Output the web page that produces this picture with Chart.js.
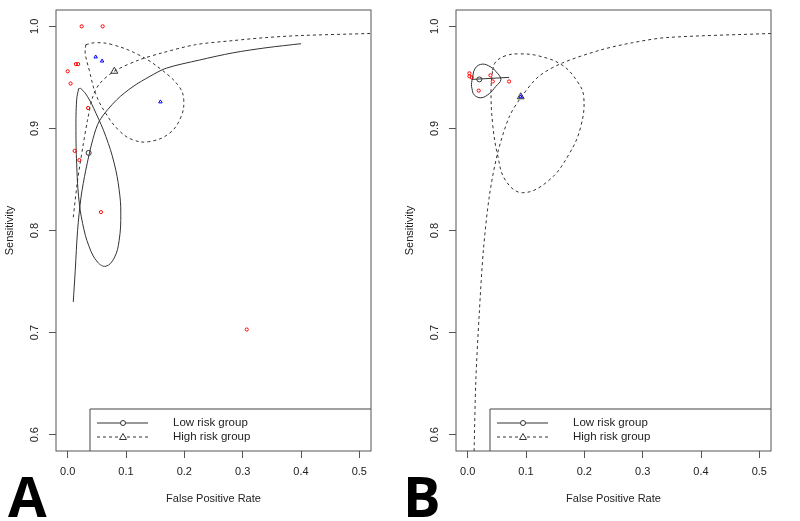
<!DOCTYPE html>
<html lang="en">
<head>
    <meta charset="UTF-8">
    <title>SROC curves by risk group</title>
    <script src="https://cdn.jsdelivr.net/npm/chart.js"></script>
    <style>
        body {
            margin: 0;
            background: #fff;
        }
        .wrap {
            position: relative;
            width: 800px;
            height: 521px;
        }
        canvas {
            position: absolute;
            top: 0;
        }
    </style>
</head>
<body>
    <div class="wrap">
        <canvas id="chartA" width="400" height="521" style="left:0"></canvas>
        <canvas id="chartB" width="400" height="521" style="left:400px"></canvas>
    </div>

    <script>
        // tick labels
        const xTicks = [0.0, 0.1, 0.2, 0.3, 0.4, 0.5];
        const yTicks = [0.6, 0.7, 0.8, 0.9, 1.0];
        const legendLabels = ['Low risk group', 'High risk group'];

        // Panel A - study points
        const aLowFpr = [0.024, 0.060, 0.000, 0.005, 0.014, 0.018, 0.035, 0.012, 0.020, 0.057, 0.307];
        const aLowSens = [1.000, 1.000, 0.956, 0.944, 0.963, 0.963, 0.920, 0.878, 0.869, 0.818, 0.703];
        const aHighFpr = [0.048, 0.059, 0.159];
        const aHighSens = [0.970, 0.966, 0.926];
        // summary points
        const aLowSumFpr = [0.036], aLowSumSens = [0.876];
        const aHighSumFpr = [0.080], aHighSumSens = [0.956];
        // SROC curves
        const aLowCurveFpr = [0.0096, 0.013, 0.017, 0.023, 0.031, 0.043, 0.055, 0.084, 0.112, 0.141, 0.169, 0.226, 0.283, 0.340, 0.400];
        const aLowCurveSens = [0.730, 0.761, 0.800, 0.833, 0.859, 0.889, 0.908, 0.928, 0.941, 0.951, 0.959, 0.967, 0.974, 0.979, 0.983];
        const aHighCurveFpr = [0.0096, 0.017, 0.026, 0.034, 0.043, 0.055, 0.080, 0.122, 0.162, 0.219, 0.283, 0.340, 0.400, 0.520];
        const aHighCurveSens = [0.813, 0.849, 0.882, 0.908, 0.931, 0.944, 0.956, 0.967, 0.974, 0.982, 0.986, 0.989, 0.991, 0.993];
        // confidence regions
        const aLowEllFpr = [0.0188, 0.0227, 0.0342, 0.0484, 0.0655, 0.0797, 0.0882, 0.0911, 0.0882, 0.0797, 0.0655, 0.0513, 0.0369, 0.0256, 0.0188, 0.0154, 0.0142, 0.0154, 0.0188];
        const aLowEllSens = [0.939, 0.939, 0.931, 0.915, 0.892, 0.866, 0.840, 0.817, 0.790, 0.773, 0.765, 0.769, 0.784, 0.807, 0.833, 0.866, 0.898, 0.928, 0.939];
        const aHighEllFpr = [0.031, 0.048, 0.077, 0.122, 0.162, 0.191, 0.199, 0.194, 0.174, 0.139, 0.111, 0.088, 0.065, 0.048, 0.037, 0.030, 0.031];
        const aHighEllSens = [0.982, 0.984, 0.982, 0.972, 0.957, 0.941, 0.928, 0.911, 0.895, 0.887, 0.889, 0.898, 0.915, 0.934, 0.957, 0.974, 0.982];

        // Panel B - study points
        const bLowFpr = [0.003, 0.003, 0.007, 0.039, 0.043, 0.071, 0.019];
        const bLowSens = [0.954, 0.951, 0.950, 0.952, 0.946, 0.946, 0.937];
        const bHighFpr = [0.091];
        const bHighSens = [0.931];
        const bLowSumFpr = [0.020], bLowSumSens = [0.948];
        const bHighSumFpr = [0.091], bHighSumSens = [0.931];
        const bLowCurveFpr = [0.007, 0.071];
        const bLowCurveSens = [0.948, 0.950];
        const bHighCurveFpr = [0.011, 0.014, 0.0199, 0.027, 0.037, 0.051, 0.071, 0.091, 0.122, 0.162, 0.229, 0.283, 0.341, 0.520];
        const bHighCurveSens = [0.584, 0.653, 0.719, 0.781, 0.833, 0.875, 0.911, 0.930, 0.951, 0.964, 0.977, 0.984, 0.989, 0.993];
        const bLowEllFpr = [0.0074, 0.013, 0.0256, 0.040, 0.048, 0.057, 0.048, 0.037, 0.0227, 0.011, 0.0074, 0.0065, 0.0074];
        const bLowEllSens = [0.947, 0.959, 0.963, 0.960, 0.956, 0.948, 0.941, 0.934, 0.930, 0.933, 0.939, 0.943, 0.947];
        const bHighEllFpr = [0.0427, 0.048, 0.064, 0.088, 0.122, 0.162, 0.188, 0.199, 0.194, 0.174, 0.139, 0.094, 0.065, 0.0513, 0.0427, 0.040, 0.0427];
        const bHighEllSens = [0.957, 0.965, 0.971, 0.973, 0.971, 0.962, 0.946, 0.931, 0.902, 0.875, 0.849, 0.837, 0.849, 0.874, 0.905, 0.938, 0.957];

        const FONT = 'Liberation Sans';
        const INK = '#333';
        Chart.defaults.font.family = FONT;

        function pts(xs, ys) {
            return xs.map((x, i) => ({ x: x, y: ys[i] }));
        }

        function lineSet(xs, ys, dashed, tension) {
            return {
                data: pts(xs, ys),
                showLine: true,
                borderColor: INK,
                borderWidth: 1,
                borderDash: dashed ? [3, 3] : [],
                pointRadius: 0,
                tension: tension,
                fill: false
            };
        }

        function pointSet(xs, ys, style, color, radius) {
            return {
                data: pts(xs, ys),
                showLine: false,
                pointStyle: style,
                pointRadius: radius,
                pointBorderColor: color,
                pointBackgroundColor: 'rgba(0,0,0,0)',
                pointBorderWidth: 1
            };
        }

        // box, rotated y labels, legend and panel letter
        const frame = {
            id: 'frame',
            afterDraw(chart, args, opts) {
                const { ctx, chartArea: ca, scales: { y } } = chart;
                ctx.save();
                ctx.strokeStyle = '#555';
                ctx.lineWidth = 1;
                ctx.setLineDash([]);
                ctx.strokeRect(ca.left, ca.top, ca.right - ca.left, ca.bottom - ca.top);

                ctx.fillStyle = '#222';
                ctx.font = '11px "' + FONT + '"';
                ctx.textAlign = 'center';
                ctx.textBaseline = 'middle';
                yTicks.forEach(v => {
                    ctx.save();
                    ctx.translate(ca.left - 21, y.getPixelForValue(v));
                    ctx.rotate(-Math.PI / 2);
                    ctx.fillText(v.toFixed(1), 0, 0);
                    ctx.restore();
                });

                // legend box, clipped by the plot frame
                const lx = ca.left + 34, ly = ca.bottom - 42;
                ctx.strokeStyle = '#444';
                ctx.beginPath();
                ctx.moveTo(lx, ca.bottom);
                ctx.lineTo(lx, ly);
                ctx.lineTo(ca.right, ly);
                ctx.stroke();

                ctx.strokeStyle = INK;
                ctx.font = '11.5px "' + FONT + '"';
                ctx.textAlign = 'left';
                legendLabels.forEach((txt, i) => {
                    const yy = ca.bottom - 28 + i * 14;
                    ctx.setLineDash(i === 0 ? [] : [3, 3]);
                    ctx.beginPath();
                    ctx.moveTo(ca.left + 41, yy);
                    ctx.lineTo(ca.left + 92, yy);
                    ctx.stroke();
                    ctx.setLineDash([]);
                    const mx = ca.left + 67;
                    ctx.fillStyle = '#fff';
                    ctx.beginPath();
                    if (i === 0) {
                        ctx.arc(mx, yy, 2.5, 0, Math.PI * 2);
                    } else {
                        ctx.moveTo(mx, yy - 3.5);
                        ctx.lineTo(mx + 3.5, yy + 2.5);
                        ctx.lineTo(mx - 3.5, yy + 2.5);
                        ctx.closePath();
                    }
                    ctx.fill();
                    ctx.stroke();
                    ctx.fillStyle = '#222';
                    ctx.fillText(txt, ca.left + 117, yy);
                });

                ctx.fillStyle = '#000';
                ctx.font = 'bold 56px "Open Sans"';
                ctx.textBaseline = 'alphabetic';
                ctx.fillText(opts.letter, opts.letterX, 517);
                ctx.restore();
            }
        };

        function makeChart(id, datasets, letter, letterX) {
            return new Chart(document.getElementById(id), {
                type: 'scatter',
                data: { datasets: datasets },
                plugins: [frame],
                options: {
                    responsive: false,
                    animation: false,
                    events: [],
                    layout: { padding: { left: 0, right: 29, top: 10, bottom: 0 } },
                    plugins: {
                        legend: { display: false },
                        tooltip: { enabled: false },
                        frame: { letter: letter, letterX: letterX }
                    },
                    scales: {
                        x: {
                            type: 'linear',
                            min: -0.02,
                            max: 0.52,
                            afterBuildTicks: s => { s.ticks = xTicks.map(v => ({ value: v })); },
                            afterFit: s => { s.height = 70; },
                            ticks: {
                                callback: v => v.toFixed(1),
                                font: { size: 11 },
                                color: '#222',
                                padding: 7,
                                maxRotation: 0,
                                autoSkip: false
                            },
                            grid: { display: true, drawOnChartArea: false, drawTicks: true, tickLength: 7, color: '#555' },
                            border: { display: false },
                            title: {
                                display: true,
                                text: 'False Positive Rate',
                                font: { size: 11 },
                                color: '#222',
                                padding: { top: 0, bottom: 15 }
                            }
                        },
                        y: {
                            type: 'linear',
                            min: 0.584,
                            max: 1.016,
                            afterBuildTicks: s => { s.ticks = yTicks.map(v => ({ value: v })); },
                            afterFit: s => { s.width = 56; },
                            ticks: { display: false },
                            grid: { display: true, drawOnChartArea: false, drawTicks: true, tickLength: 7, color: '#555' },
                            border: { display: false },
                            title: {
                                display: true,
                                text: 'Sensitivity',
                                font: { size: 11 },
                                color: '#222',
                                padding: { top: 3, bottom: 0 }
                            }
                        }
                    }
                }
            });
        }

        makeChart('chartA', [
            pointSet(aLowSumFpr, aLowSumSens, 'circle', INK, 2.5),
            pointSet(aHighSumFpr, aHighSumSens, 'triangle', INK, 4),
            pointSet(aLowFpr, aLowSens, 'circle', '#ff0000', 1.6),
            pointSet(aHighFpr, aHighSens, 'triangle', '#0000ff', 2),
            lineSet(aLowCurveFpr, aLowCurveSens, false, 0.3),
            lineSet(aHighCurveFpr, aHighCurveSens, true, 0.3),
            lineSet(aLowEllFpr, aLowEllSens, false, 0.4),
            lineSet(aHighEllFpr, aHighEllSens, true, 0.4)
        ], 'A', 8);

        makeChart('chartB', [
            pointSet(bHighFpr, bHighSens, 'triangle', '#0000ff', 2),
            pointSet(bLowSumFpr, bLowSumSens, 'circle', INK, 2.5),
            pointSet(bHighSumFpr, bHighSumSens, 'triangle', INK, 4),
            pointSet(bLowFpr, bLowSens, 'circle', '#ff0000', 1.6),
            lineSet(bLowCurveFpr, bLowCurveSens, false, 0),
            lineSet(bHighCurveFpr, bHighCurveSens, true, 0.3),
            lineSet(bLowEllFpr, bLowEllSens, false, 0.4),
            lineSet(bHighEllFpr, bHighEllSens, true, 0.4)
        ], 'B', 3);
    </script>
</body>
</html>
